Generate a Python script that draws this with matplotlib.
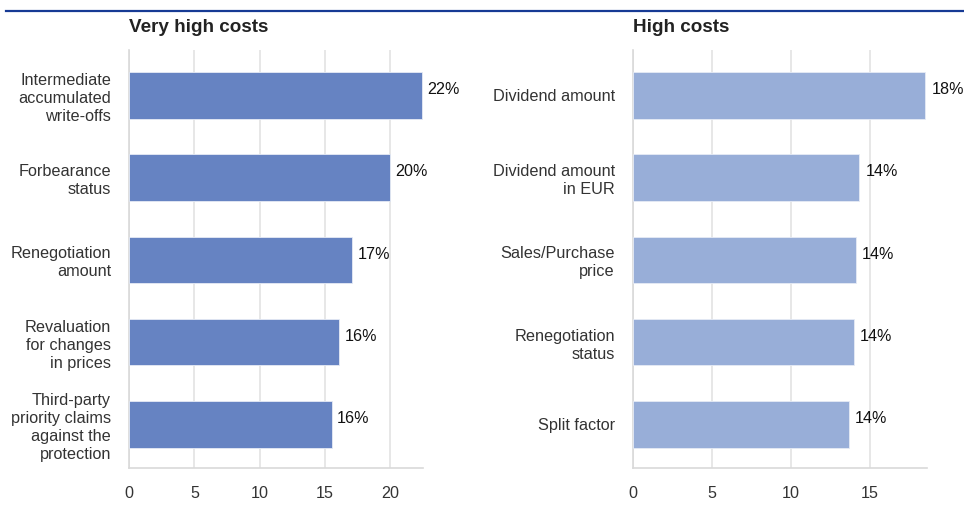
import matplotlib.pyplot as plt
from matplotlib.lines import Line2D

plt.rcParams['font.family'] = ['Liberation Sans', 'DejaVu Sans']

# data
very_high_cats = ['Intermediate\naccumulated\nwrite-offs', 'Forbearance\nstatus',
                  'Renegotiation\namount', 'Revaluation\nfor changes\nin prices',
                  'Third-party\npriority claims\nagainst the\nprotection']
very_high_vals = [22.4, 20.0, 17.1, 16.1, 15.5]
very_high_labels = ['22%', '20%', '17%', '16%', '16%']

high_cats = ['Dividend amount', 'Dividend amount\nin EUR', 'Sales/Purchase\nprice',
             'Renegotiation\nstatus', 'Split factor']
high_vals = [18.5, 14.3, 14.1, 13.95, 13.65]
high_labels = ['18%', '14%', '14%', '14%', '14%']

W, H = 964, 508
fig = plt.figure(figsize=(W / 100, H / 100), dpi=100)

# thin blue rule at the top
fig.add_artist(Line2D([6 / W, 1.0], [1 - 11 / H, 1 - 11 / H], color='#163a94', lw=1.6))


def draw_panel(left_px, title, cats, vals, labels, color, xmax, ticks):
    ax = fig.add_axes([left_px / W, 40 / H, 294 / W, 418 / H])
    pos = range(len(cats))
    ax.barh(pos, vals, height=0.565, color=color, edgecolor='#e6ebf5', linewidth=0.6, zorder=3)
    for p, v, lab in zip(pos, vals, labels):
        ax.text(v + 0.4, p - 0.07, lab, va='center', ha='left', fontsize=11.6, color='#111111')
    ax.set_yticks(list(pos))
    ax.set_yticklabels(cats, fontsize=11.7, color='#333333', linespacing=1.25)
    ax.set_ylim(4.53, -0.55)
    ax.set_xlim(0, xmax)
    ax.set_xticks(ticks)
    ax.tick_params(axis='x', length=0, pad=13, labelsize=11.6, labelcolor='#333333')
    ax.tick_params(axis='y', length=0, pad=13)
    ax.grid(axis='x', color='#e3e3e3', lw=1.2, zorder=0)
    for s in ('top', 'right'):
        ax.spines[s].set_visible(False)
    for s in ('left', 'bottom'):
        ax.spines[s].set_color('#d9d9d9')
        ax.spines[s].set_linewidth(1.2)
    fig.text(left_px / W, 1 - 28 / H, title, fontsize=13.6, fontweight='bold',
             color='#222222', va='center', ha='left')
    return ax


draw_panel(129, 'Very high costs', very_high_cats, very_high_vals, very_high_labels,
           '#6683c2', 22.5, [0, 5, 10, 15, 20])
draw_panel(633, 'High costs', high_cats, high_vals, high_labels,
           '#98aed8', 18.6, [0, 5, 10, 15])

plt.savefig('out.png', dpi=100)
